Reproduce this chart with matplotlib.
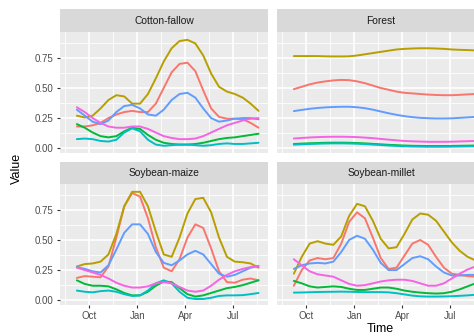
import matplotlib
matplotlib.use('Agg')
import matplotlib.pyplot as plt
import matplotlib.dates as mdates
import pandas as pd

plt.rcParams['font.family'] = ['Liberation Sans', 'DejaVu Sans']

# ---------------- data ----------------
dates = ['2019-09-08', '2019-09-23', '2019-10-08', '2019-10-23', '2019-11-07', '2019-11-22',
         '2019-12-07', '2019-12-22', '2020-01-06', '2020-01-21', '2020-02-05', '2020-02-20',
         '2020-03-06', '2020-03-21', '2020-04-05', '2020-04-20', '2020-05-05', '2020-05-20',
         '2020-06-04', '2020-06-19', '2020-07-04', '2020-07-19', '2020-08-03', '2020-08-18']

panels = ['Cotton-fallow', 'Forest', 'Soybean-maize', 'Soybean-millet']
series_names = ['s1', 's2', 's3', 's4', 's5', 's6']
colors = ['#F8766D', '#B79F00', '#00BA38', '#00BFC4', '#619CFF', '#F564E3']

x_tick_dates = ['2019-10-01', '2020-01-01', '2020-04-01', '2020-07-01']
x_tick_labels = ['Oct', 'Jan', 'Apr', 'Jul']
x_minor_dates = ['2019-08-16', '2019-11-16', '2020-02-15', '2020-05-16', '2020-08-16']
y_ticks = [0.0, 0.25, 0.5, 0.75]
y_tick_labels = ['0.00', '0.25', '0.50', '0.75']
y_minor = [0.125, 0.375, 0.625, 0.875]

# Cotton-fallow
cf_s1 = [0.18, 0.18, 0.19, 0.21, 0.25, 0.28, 0.30, 0.31, 0.30, 0.30, 0.37, 0.50,
         0.63, 0.70, 0.71, 0.64, 0.48, 0.33, 0.26, 0.245, 0.245, 0.24, 0.21, 0.17]
cf_s2 = [0.27, 0.255, 0.27, 0.33, 0.40, 0.44, 0.43, 0.37, 0.37, 0.45, 0.58, 0.72,
         0.83, 0.89, 0.90, 0.87, 0.77, 0.62, 0.51, 0.47, 0.45, 0.42, 0.37, 0.31]
cf_s3 = [0.20, 0.17, 0.13, 0.10, 0.09, 0.10, 0.14, 0.17, 0.16, 0.11, 0.07, 0.045,
         0.035, 0.03, 0.03, 0.035, 0.045, 0.06, 0.075, 0.085, 0.09, 0.10, 0.11, 0.12]
cf_s4 = [0.075, 0.08, 0.075, 0.06, 0.055, 0.07, 0.13, 0.165, 0.14, 0.07, 0.03, 0.02,
         0.025, 0.03, 0.03, 0.025, 0.02, 0.025, 0.035, 0.04, 0.035, 0.035, 0.04, 0.045]
cf_s5 = [0.32, 0.27, 0.22, 0.20, 0.23, 0.30, 0.35, 0.36, 0.33, 0.28, 0.27, 0.32,
         0.40, 0.45, 0.46, 0.42, 0.33, 0.25, 0.22, 0.23, 0.245, 0.25, 0.25, 0.24]
cf_s6 = [0.34, 0.30, 0.25, 0.21, 0.18, 0.17, 0.17, 0.18, 0.18, 0.16, 0.13, 0.10,
         0.085, 0.075, 0.075, 0.08, 0.10, 0.13, 0.16, 0.19, 0.21, 0.23, 0.245, 0.25]

# Forest
fo_s1 = [0.49, 0.51, 0.53, 0.545, 0.555, 0.563, 0.567, 0.565, 0.555, 0.54, 0.52, 0.50,
         0.485, 0.47, 0.46, 0.455, 0.45, 0.445, 0.442, 0.44, 0.44, 0.443, 0.447, 0.45]
fo_s2 = [0.765, 0.765, 0.765, 0.765, 0.763, 0.762, 0.762, 0.763, 0.77, 0.78, 0.79, 0.80,
         0.81, 0.82, 0.825, 0.828, 0.83, 0.83, 0.828, 0.825, 0.82, 0.817, 0.815, 0.812]
fo_s3 = [0.035, 0.038, 0.041, 0.043, 0.045, 0.046, 0.046, 0.045, 0.043, 0.04, 0.036, 0.032,
         0.028, 0.025, 0.022, 0.02, 0.019, 0.018, 0.018, 0.018, 0.019, 0.02, 0.021, 0.022]
fo_s4 = [0.029, 0.032, 0.035, 0.037, 0.039, 0.04, 0.04, 0.039, 0.037, 0.034, 0.03, 0.026,
         0.022, 0.019, 0.016, 0.014, 0.013, 0.012, 0.012, 0.012, 0.013, 0.014, 0.015, 0.016]
fo_s5 = [0.308, 0.318, 0.327, 0.334, 0.339, 0.342, 0.344, 0.344, 0.34, 0.332, 0.32, 0.305,
         0.29, 0.277, 0.266, 0.258, 0.252, 0.249, 0.247, 0.247, 0.248, 0.252, 0.256, 0.26]
fo_s6 = [0.08, 0.085, 0.089, 0.092, 0.094, 0.095, 0.095, 0.094, 0.092, 0.088, 0.083, 0.077,
         0.071, 0.065, 0.06, 0.057, 0.055, 0.053, 0.053, 0.053, 0.054, 0.056, 0.058, 0.06]

# Soybean-maize
sm_s1 = [0.185, 0.20, 0.195, 0.19, 0.28, 0.52, 0.78, 0.89, 0.86, 0.68, 0.44, 0.27,
         0.24, 0.34, 0.52, 0.63, 0.60, 0.43, 0.24, 0.15, 0.145, 0.17, 0.18, 0.165]
sm_s2 = [0.28, 0.30, 0.305, 0.32, 0.38, 0.55, 0.78, 0.90, 0.90, 0.78, 0.57, 0.38,
         0.36, 0.52, 0.72, 0.84, 0.85, 0.73, 0.52, 0.36, 0.32, 0.315, 0.305, 0.27]
sm_s3 = [0.165, 0.135, 0.12, 0.12, 0.115, 0.09, 0.06, 0.04, 0.04, 0.07, 0.12, 0.155,
         0.15, 0.10, 0.05, 0.03, 0.04, 0.06, 0.08, 0.10, 0.11, 0.125, 0.145, 0.165]
sm_s4 = [0.08, 0.07, 0.065, 0.075, 0.08, 0.07, 0.05, 0.035, 0.04, 0.08, 0.14, 0.165,
         0.14, 0.07, 0.02, 0.01, 0.01, 0.02, 0.035, 0.04, 0.04, 0.042, 0.05, 0.06]
sm_s5 = [0.275, 0.26, 0.24, 0.23, 0.29, 0.42, 0.56, 0.63, 0.63, 0.55, 0.40, 0.31,
         0.29, 0.33, 0.38, 0.41, 0.38, 0.30, 0.22, 0.195, 0.21, 0.24, 0.27, 0.285]
sm_s6 = [0.27, 0.25, 0.23, 0.21, 0.18, 0.145, 0.12, 0.105, 0.105, 0.115, 0.14, 0.15,
         0.14, 0.11, 0.08, 0.07, 0.08, 0.12, 0.17, 0.21, 0.24, 0.26, 0.275, 0.285]

# Soybean-millet
sl_s1 = [0.12, 0.25, 0.33, 0.35, 0.34, 0.35, 0.47, 0.65, 0.73, 0.68, 0.52, 0.35,
         0.26, 0.27, 0.37, 0.47, 0.50, 0.46, 0.36, 0.27, 0.22, 0.21, 0.20, 0.195]
sl_s2 = [0.22, 0.36, 0.47, 0.49, 0.47, 0.46, 0.53, 0.70, 0.80, 0.78, 0.66, 0.51,
         0.43, 0.44, 0.55, 0.67, 0.72, 0.71, 0.66, 0.57, 0.48, 0.41, 0.36, 0.33]
sl_s3 = [0.16, 0.14, 0.115, 0.105, 0.11, 0.115, 0.11, 0.095, 0.085, 0.085, 0.095, 0.105,
         0.105, 0.095, 0.08, 0.07, 0.063, 0.058, 0.055, 0.058, 0.07, 0.09, 0.115, 0.14]
sl_s4 = [0.063, 0.064, 0.066, 0.068, 0.069, 0.07, 0.071, 0.07, 0.068, 0.067, 0.067, 0.067,
         0.065, 0.058, 0.048, 0.038, 0.032, 0.03, 0.03, 0.031, 0.033, 0.036, 0.04, 0.045]
sl_s5 = [0.26, 0.29, 0.305, 0.31, 0.305, 0.32, 0.40, 0.50, 0.535, 0.51, 0.42, 0.31,
         0.25, 0.25, 0.30, 0.35, 0.365, 0.34, 0.28, 0.23, 0.205, 0.205, 0.21, 0.21]
sl_s6 = [0.34, 0.29, 0.24, 0.215, 0.205, 0.195, 0.165, 0.135, 0.12, 0.125, 0.14, 0.155,
         0.165, 0.17, 0.17, 0.16, 0.14, 0.12, 0.12, 0.14, 0.18, 0.22, 0.255, 0.28]

panel_data = {
    'Cotton-fallow': [cf_s1, cf_s2, cf_s3, cf_s4, cf_s5, cf_s6],
    'Forest': [fo_s1, fo_s2, fo_s3, fo_s4, fo_s5, fo_s6],
    'Soybean-maize': [sm_s1, sm_s2, sm_s3, sm_s4, sm_s5, sm_s6],
    'Soybean-millet': [sl_s1, sl_s2, sl_s3, sl_s4, sl_s5, sl_s6],
}

# ---------------- figure ----------------
W, H = 474, 336
fig = plt.figure(figsize=(W / 100, H / 100), dpi=100)
fig.patch.set_facecolor('white')


def px_axes(x0, y0, w, h):
    return fig.add_axes([x0 / W, 1 - (y0 + h) / H, w / W, h / H])


x_dt = pd.to_datetime(dates)
xlim = (pd.Timestamp('2019-08-07'), pd.Timestamp('2020-09-05'))
ylim = (-0.04, 0.965)

layout = {
    'Cotton-fallow': (60, 32, 9, 23, True, False),
    'Forest': (277, 32, 9, 23, False, False),
    'Soybean-maize': (60, 184, 162, 22, True, True),
    'Soybean-millet': (277, 184, 162, 22, False, True),
}
pw, ph = 208, 121

for name in panels:
    x0, y0, sy, sh, show_y, show_x = layout[name]
    ax = px_axes(x0, y0, pw, ph)
    ax.set_facecolor('#EBEBEB')
    for sp in ax.spines.values():
        sp.set_visible(False)
    ax.set_xlim(*xlim)
    ax.set_ylim(*ylim)
    ax.set_xticks(pd.to_datetime(x_tick_dates))
    ax.set_xticks(pd.to_datetime(x_minor_dates), minor=True)
    ax.set_yticks(y_ticks)
    ax.set_yticks(y_minor, minor=True)
    ax.grid(which='major', color='white', lw=1.2)
    ax.grid(which='minor', color='white', lw=0.6)
    ax.set_axisbelow(True)
    ax.tick_params(which='minor', length=0)
    if show_x:
        ax.set_xticklabels(x_tick_labels)
        ax.tick_params(axis='x', which='major', length=2.5, width=0.8, color='#333333',
                       labelsize=7, labelcolor='#4D4D4D', pad=2)
    else:
        ax.set_xticklabels([])
        ax.tick_params(axis='x', which='major', length=0)
    if show_y:
        ax.set_yticklabels(y_tick_labels)
        ax.tick_params(axis='y', which='major', length=2.5, width=0.8, color='#333333',
                       labelsize=7, labelcolor='#4D4D4D', pad=2)
    else:
        ax.set_yticklabels([])
        ax.tick_params(axis='y', which='major', length=0)

    for vals, col, sname in zip(panel_data[name], colors, series_names):
        ax.plot(x_dt, vals, color=col, lw=1.4, label=sname,
                solid_capstyle='round', solid_joinstyle='round')

    sax = px_axes(x0, sy, pw, sh)
    sax.set_facecolor('#D9D9D9')
    sax.set_xticks([])
    sax.set_yticks([])
    for sp in sax.spines.values():
        sp.set_visible(False)
    sax.text(0.5, 0.5, name, ha='center', va='center', fontsize=7.4, color='#1A1A1A',
             transform=sax.transAxes)

fig.text(380 / W, 1 - 323 / H, 'Time', ha='center', va='top', fontsize=9)
fig.text(17 / W, 1 - 168 / H, 'Value', rotation=90, ha='center', va='center', fontsize=9)

fig.savefig('out.png', dpi=100)
